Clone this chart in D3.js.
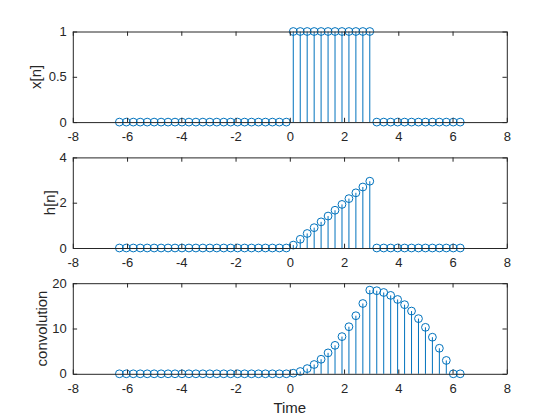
<!DOCTYPE html>
<html>
<head>
<meta charset="utf-8">
<script src="https://cdn.jsdelivr.net/npm/d3@7"></script>
<style>
  body { margin: 0; background: #fff; }
  text { font-family: "Liberation Sans", Arial, sans-serif; fill: #262626; }
  .tick text { font-size: 13px; }
  .ylab, .xlab { font-size: 15px; }
</style>
</head>
<body>
<div id="fig"></div>
<script>
// sample times (linspace over -2pi..2pi, 50 points)
var timeVals = [-6.283, -6.027, -5.770, -5.514, -5.257, -5.001, -4.744, -4.488, -4.232, -3.975,
  -3.719, -3.462, -3.206, -2.949, -2.693, -2.436, -2.180, -1.924, -1.667, -1.411,
  -1.154, -0.898, -0.641, -0.385, -0.128, 0.128, 0.385, 0.641, 0.898, 1.154,
  1.411, 1.667, 1.924, 2.180, 2.436, 2.693, 2.949, 3.206, 3.462, 3.719,
  3.975, 4.232, 4.488, 4.744, 5.001, 5.257, 5.514, 5.770, 6.027, 6.283];

var xVals = [0, 0, 0, 0, 0, 0, 0, 0, 0, 0,
  0, 0, 0, 0, 0, 0, 0, 0, 0, 0,
  0, 0, 0, 0, 0, 1, 1, 1, 1, 1,
  1, 1, 1, 1, 1, 1, 1, 0, 0, 0,
  0, 0, 0, 0, 0, 0, 0, 0, 0, 0];

var hVals = [0, 0, 0, 0, 0, 0, 0, 0, 0, 0,
  0, 0, 0, 0, 0, 0, 0, 0, 0, 0,
  0, 0, 0, 0, 0, 0.128, 0.385, 0.641, 0.898, 1.154,
  1.411, 1.667, 1.924, 2.180, 2.436, 2.693, 2.949, 0, 0, 0,
  0, 0, 0, 0, 0, 0, 0, 0, 0, 0];

var convVals = [0, 0, 0, 0, 0, 0, 0, 0, 0, 0,
  0, 0, 0, 0, 0, 0, 0, 0, 0, 0,
  0, 0, 0, 0, 0, 0.13, 0.51, 1.15, 2.05, 3.21,
  4.62, 6.28, 8.21, 10.39, 12.82, 15.52, 18.47, 18.34, 17.95, 17.31,
  16.41, 15.26, 13.85, 12.18, 10.26, 8.08, 5.64, 2.95, 0, 0];

var xTicks = [-8, -6, -4, -2, 0, 2, 4, 6, 8];

var panels = [
  { vals: xVals, yDomain: [0, 1], yTicks: [0, 0.5, 1], label: "x[n]" },
  { vals: hVals, yDomain: [0, 4], yTicks: [0, 2, 4], label: "h[n]" },
  { vals: convVals, yDomain: [0, 20], yTicks: [0, 10, 20], label: "convolution" }
];

var svgWidth = 560;
var svgHeight = 420;
var stemColor = "#0072BD";

// MATLAB style subplot boxes
var axLeft = 72.8;
var axWidth = 434;
var axHeight = 90.6;
var axTops = [31.5, 157.4, 283.2];
var labelX = [40.5, 55, 47];
var tickLen = 4.3;

var svg = d3.select("#fig")
  .append("svg")
  .attr("width", svgWidth)
  .attr("height", svgHeight);

var xScale = d3.scaleLinear()
  .domain([-8, 8])
  .range([0, axWidth]);

panels.forEach(function(p, i) {
  var g = svg.append("g")
    .attr("transform", `translate(${axLeft}, ${axTops[i]})`);

  var yScale = d3.scaleLinear()
    .domain(p.yDomain)
    .range([axHeight, 0]);

  var pts = timeVals.map(function(t, k) { return { t: t, v: p.vals[k] }; });

  // stems
  g.append("g").selectAll("line")
    .data(pts)
    .enter()
    .append("line")
    .attr("x1", d => xScale(d.t))
    .attr("x2", d => xScale(d.t))
    .attr("y1", yScale(0))
    .attr("y2", d => yScale(d.v))
    .attr("stroke", stemColor)
    .attr("stroke-width", 1);

  // markers
  g.append("g").selectAll("circle")
    .data(pts)
    .enter()
    .append("circle")
    .attr("cx", d => xScale(d.t))
    .attr("cy", d => yScale(d.v))
    .attr("r", 3.9)
    .attr("fill", "none")
    .attr("stroke", stemColor)
    .attr("stroke-width", 1);

  // axes (ticks inward, box on)
  var fmt = d => String(d);
  var axes = [
    { ax: d3.axisBottom(xScale).tickValues(xTicks).tickFormat(fmt).tickPadding(9.5), tr: `translate(0,${axHeight})` },
    { ax: d3.axisTop(xScale).tickValues(xTicks).tickFormat(""), tr: "translate(0,0)" },
    { ax: d3.axisLeft(yScale).tickValues(p.yTicks).tickFormat(fmt).tickPadding(6), tr: "translate(0,0)" },
    { ax: d3.axisRight(yScale).tickValues(p.yTicks).tickFormat(""), tr: `translate(${axWidth},0)` }
  ];
  axes.forEach(function(a) {
    var ag = g.append("g")
      .attr("transform", a.tr)
      .call(a.ax.tickSizeInner(-tickLen).tickSizeOuter(0));
    ag.select(".domain").attr("stroke", "#262626");
    ag.selectAll(".tick line").attr("stroke", "#262626");
    ag.selectAll(".tick text").attr("fill", "#262626");
  });

  g.append("text")
    .attr("class", "ylab")
    .attr("transform", `translate(${labelX[i] - axLeft},${axHeight / 2})rotate(-90)`)
    .attr("text-anchor", "middle")
    .text(p.label);
});

svg.append("text")
  .attr("class", "xlab")
  .attr("x", axLeft + axWidth / 2)
  .attr("y", 413.3)
  .attr("text-anchor", "middle")
  .text("Time");
</script>
</body>
</html>
